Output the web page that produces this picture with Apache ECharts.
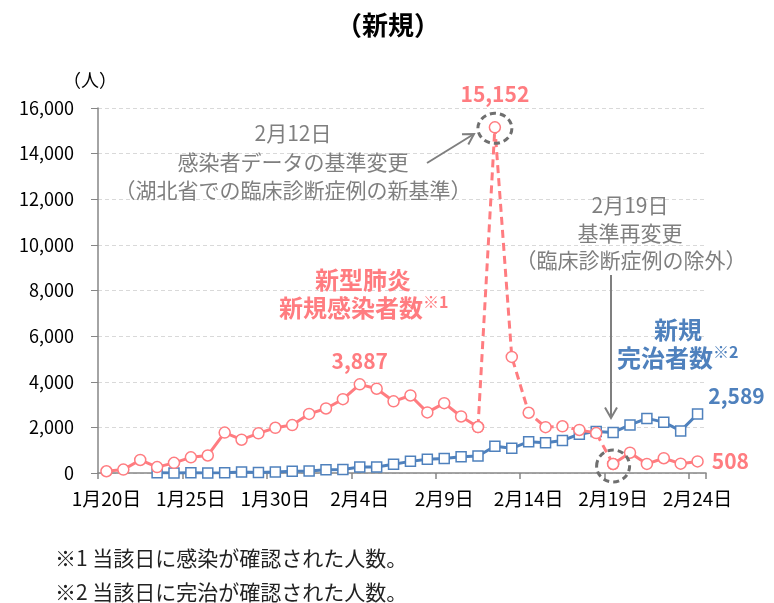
<!DOCTYPE html>
<html lang="ja">
<head>
<meta charset="UTF-8">
<title>新規</title>
<script src="https://cdn.jsdelivr.net/npm/echarts@6/dist/echarts.min.js"></script>
<style>
    html,body{
        margin:0;
        padding:0;
        background:#fff;
    }
    #main{
        width:774px;
        height:603px;
    }
</style>
</head>
<body>
<div id="main"></div>
<script>
    // 日付
    var days = ['1月20日','1月21日','1月22日','1月23日','1月24日','1月25日','1月26日','1月27日','1月28日','1月29日','1月30日','1月31日',
        '2月1日','2月2日','2月3日','2月4日','2月5日','2月6日','2月7日','2月8日','2月9日','2月10日','2月11日','2月12日',
        '2月13日','2月14日','2月15日','2月16日','2月17日','2月18日','2月19日','2月20日','2月21日','2月22日','2月23日','2月24日'];
    // 新規感染者数
    var newCases = [77,149,571,259,444,688,769,1771,1459,1737,1982,2102,
        2590,2829,3235,3887,3694,3143,3399,2656,3062,2478,2015,15152,
        5090,2641,2009,2048,1886,1749,394,889,397,648,409,508];
    // 新規完治者数
    var recovered = [null,null,null,6,4,11,2,9,43,21,47,72,
        85,147,157,262,261,387,510,600,632,716,744,1171,
        1081,1373,1323,1425,1701,1824,1779,2109,2393,2230,1846,2589];
    var yTicks = [0,2000,4000,6000,8000,10000,12000,14000,16000];
    // 点線の区間 (2月11日〜2月19日)
    var dashFrom = 22, dashTo = 30;

    var red = '#FF7C80', blue = '#4F81BD', gray = '#7F7F7F';
    var jp = '"Noto Sans CJK JP", "Noto Sans", sans-serif';

    var solid = newCases.map(function(v,i){
        if(i>dashFrom && i<dashTo) return null;
        if(i===15) return {value:v,label:{show:true,position:'top',distance:7}};
        if(i===newCases.length-1) return {value:v,label:{show:true,position:'right',distance:8}};
        return v;
    });
    var dashed = newCases.map(function(v,i){
        if(i<dashFrom || i>dashTo) return null;
        if(i===23) return {value:v,label:{show:true,position:'top',distance:17}};
        return v;
    });
    var blueData = recovered.map(function(v,i){
        if(i===recovered.length-1) return {value:v,label:{show:true,position:'right',distance:5,offset:[0,-18],color:blue}};
        return v;
    });

    var numLabel = {
        show:false,
        color:red,
        fontSize:21,
        fontWeight:'bold',
        fontFamily:jp,
        formatter:function(p){ return p.value.toLocaleString('en-US'); }
    };

    var chart = echarts.init(document.getElementById('main'));
    var option = {
        animation:false,
        textStyle:{fontFamily:jp},
        grid:{left:98,right:68,top:108,bottom:130},
        xAxis:{
            type:'category',
            data:days,
            boundaryGap:true,
            axisLine:{lineStyle:{color:'#868686',width:1.5}},
            axisTick:{show:true,interval:4,length:6,lineStyle:{color:'#868686',width:1.5}},
            axisLabel:{interval:4,fontSize:19,color:'#000',margin:16,fontFamily:jp}
        },
        yAxis:{
            type:'value',
            min:yTicks[0],
            max:yTicks[yTicks.length-1],
            interval:yTicks[1]-yTicks[0],
            axisLine:{show:true,lineStyle:{color:'#868686',width:1.5}},
            axisTick:{show:true,length:7,lineStyle:{color:'#868686'}},
            splitLine:{lineStyle:{color:'#D9D9D9',type:[4,3]}},
            axisLabel:{fontSize:18,color:'#000',margin:24,fontFamily:jp,
                formatter:function(v){ return v.toLocaleString('en-US'); }}
        },
        series:[
            {
                name:'新規完治者数',
                type:'line',
                data:blueData,
                symbol:'rect',
                symbolSize:10,
                itemStyle:{color:'#fff',borderColor:blue,borderWidth:1.5},
                lineStyle:{color:blue,width:3},
                label:Object.assign({},numLabel,{color:blue}),
                z:2
            },
            {
                name:'新規感染者数',
                type:'line',
                data:solid,
                symbol:'circle',
                symbolSize:11,
                itemStyle:{color:'#fff',borderColor:red,borderWidth:1.5},
                lineStyle:{color:red,width:3},
                label:numLabel,
                z:3
            },
            {
                name:'新規感染者数(基準変更)',
                type:'line',
                data:dashed,
                symbol:'circle',
                symbolSize:11,
                itemStyle:{color:'#fff',borderColor:red,borderWidth:1.5},
                lineStyle:{color:red,width:3,type:[8,5]},
                label:numLabel,
                z:3
            }
        ]
    };
    chart.setOption(option);

    function txt(x,y,s,font,color,align){
        return {type:'text',x:x,y:y,z:10,style:{text:s,font:font,fill:color,
            textAlign:align||'center',align:align||'center',textVerticalAlign:'middle',verticalAlign:'middle'}};
    }
    function arrow(x1,y1,x2,y2){
        var a = Math.atan2(y2-y1,x2-x1), L = 12, s = Math.PI/6;
        return [
            {type:'line',z:10,shape:{x1:x1,y1:y1,x2:x2,y2:y2},style:{stroke:gray,lineWidth:2}},
            {type:'polyline',z:10,shape:{points:[
                [x2-L*Math.cos(a-s),y2-L*Math.sin(a-s)],[x2,y2],[x2-L*Math.cos(a+s),y2-L*Math.sin(a+s)]]},
                style:{stroke:gray,lineWidth:2,fill:null}}
        ];
    }
    var peak = chart.convertToPixel({seriesIndex:2},[23,newCases[23]]);
    var drop = chart.convertToPixel({seriesIndex:2},[30,newCases[30]]);
    var f20 = '21px '+jp, fb = 'bold 24px '+jp, fs = 'bold 16px '+jp;

    var g = [
        txt(388,25,'（新規）','bold 26px '+jp,'#000'),
        txt(90,80,'（人）','18px '+jp,'#000'),
        txt(293,133,'2月12日',f20,gray),
        txt(293,162,'感染者データの基準変更',f20,gray),
        txt(293,190,'（湖北省での臨床診断症例の新基準）',f20,gray),
        txt(630,205,'2月19日',f20,gray),
        txt(630,233,'基準再変更',f20,gray),
        txt(631,260,'（臨床診断症例の除外）',f20,gray),
        txt(363,280,'新型肺炎',fb,red),
        txt(351,308,'新規感染者数',fb,red),
        txt(423,302,'※1',fs,red,'left'),
        txt(678,330,'新規',fb,blue),
        txt(665,358,'完治者数',fb,blue),
        txt(713,352,'※2',fs,blue,'left'),
        txt(55,558,'※1 当該日に感染が確認された人数。','21px '+jp,'#222','left'),
        txt(55,592,'※2 当該日に完治が確認された人数。','21px '+jp,'#222','left'),
        {type:'ellipse',z:9,shape:{cx:peak[0],cy:peak[1]+1,rx:17,ry:15},
            style:{stroke:'#6F6F6F',lineWidth:3,lineDash:[6,4],fill:null}},
        {type:'ellipse',z:9,shape:{cx:drop[0],cy:drop[1]+2,rx:16.5,ry:16},
            style:{stroke:'#6F6F6F',lineWidth:3,lineDash:[6,4],fill:null}}
    ].concat(arrow(427,163,474,134)).concat(arrow(611,275,611,418));

    chart.setOption({graphic:g});
</script>
</body>
</html>
